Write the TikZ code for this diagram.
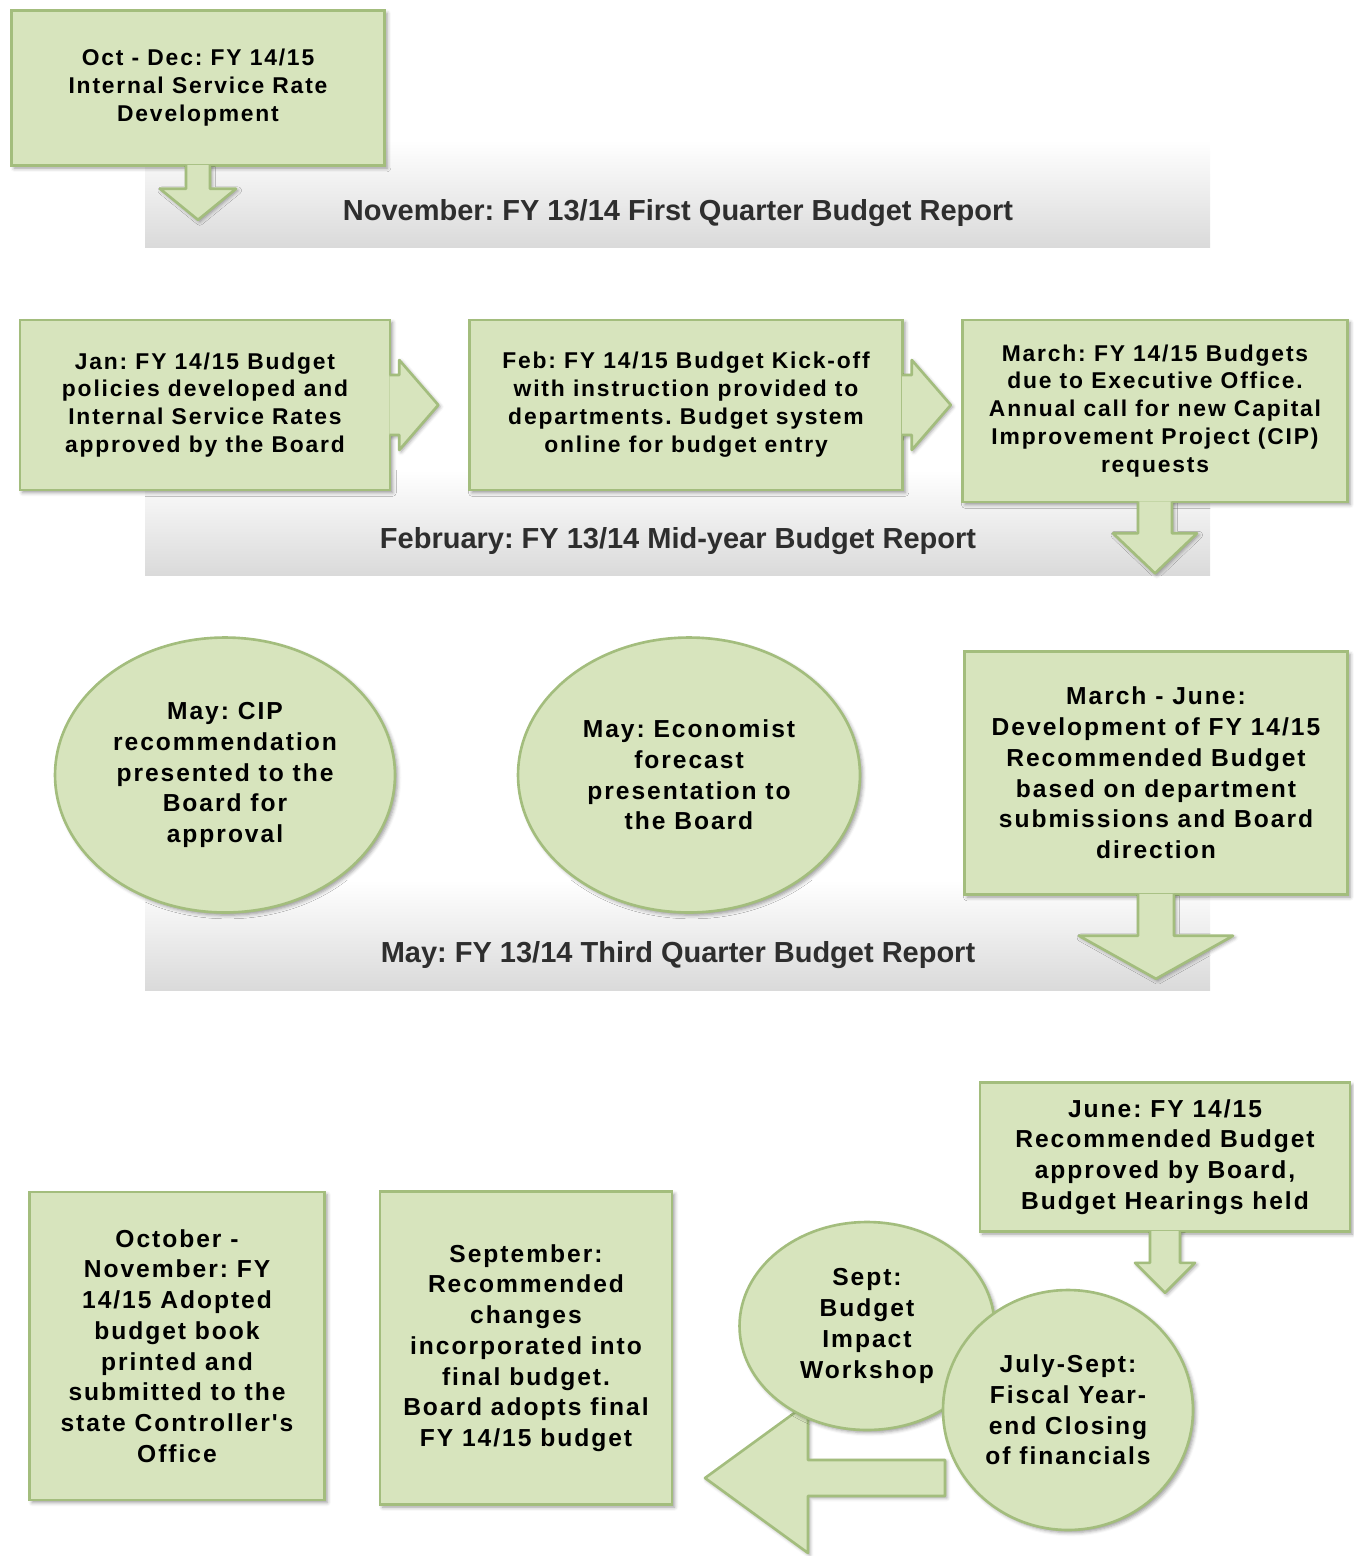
\documentclass[tikz,border=0pt]{standalone}
\usepackage{fontspec}
\setmainfont{Liberation Sans}
\newfontfamily\boxfont[LetterSpace=8]{Liberation Sans}
\usetikzlibrary{calc, shapes.geometric, shadows.blur}
\frenchspacing

\definecolor{boxgreen}{HTML}{D7E4BD}
\definecolor{boxedge}{HTML}{A3BD7D}
\definecolor{bandgray}{HTML}{DADADA}
\definecolor{bandtext}{HTML}{2E2E2E}

\tikzset{
	stagebox/.style={rectangle, fill=boxgreen, draw=boxedge, line width=1.5pt, align=center, text=black,
		blur shadow={shadow xshift=1.5pt, shadow yshift=-1.5pt}},
	stageoval/.style={ellipse, fill=boxgreen, draw=boxedge, line width=1.5pt, align=center, text=black, inner sep=0pt,
		blur shadow={shadow xshift=1.5pt, shadow yshift=-1.5pt}},
	blockarrow/.style={fill=boxgreen, draw=boxedge, line width=1.5pt, line join=round,
		blur shadow={shadow xshift=1pt, shadow yshift=-1pt}},
	small text/.style={font=\boxfont\bfseries\fontsize{13}{15.9}\selectfont},
	big text/.style={font=\boxfont\bfseries\fontsize{14}{17.5}\selectfont},
	band/.style={top color=white, bottom color=bandgray, draw=none},
	bandlabel/.style={font=\bfseries\fontsize{16.5}{19}\selectfont, text=bandtext},
}

\begin{document}
\begin{tikzpicture}[x=0.02cm, y=-0.02cm]
		%canvas, one unit is one pixel of the original
		\useasboundingbox (0,0) rectangle (1354,1556);
		
		%report bands
		\path[band] (145,140) rectangle (1210,247);
		\path[band] (145,470) rectangle (1210,575);
		\path[band] (145,880) rectangle (1210,990);
		\node[bandlabel] (nov report) at (678,213) {November: FY 13/14 First Quarter Budget Report};
		\node[bandlabel] (feb report) at (678,541) {February: FY 13/14 Mid-year Budget Report};
		\node[bandlabel] (may report) at (678,955) {May: FY 13/14 Third Quarter Budget Report};
		
		%autumn
		\node[stagebox, small text, minimum width=7.46cm, minimum height=3.1cm] (oct dec) at (198,88)
			{Oct - Dec: FY 14/15\\Internal Service Rate\\Development};
		\draw[blockarrow] ($(oct dec.south)+(-12,-2)$) -- ++(0,24) -- ++(-26,0) -- ++(38,31) -- ++(38,-31) -- ++(-26,0) -- ++(0,-24);
		
		%winter
		\node[stagebox, small text, minimum width=7.4cm, minimum height=3.4cm] (jan) at (205,405)
			{Jan: FY 14/15 Budget\\policies developed and\\Internal Service Rates\\approved by the Board};
		\node[stagebox, small text, minimum width=8.66cm, minimum height=3.4cm] (feb) at (686,405)
			{Feb: FY 14/15 Budget Kick-off\\with instruction provided to\\departments. Budget system\\online for budget entry};
		\node[stagebox, small text, minimum width=7.7cm, minimum height=3.64cm] (march) at (1155,411)
			{March: FY 14/15 Budgets\\due to Executive Office.\\Annual call for new Capital\\Improvement Project (CIP)\\requests};
		\draw[blockarrow] ($(jan.east)+(-2,-30)$) -- ++(10,0) -- ++(0,-15) -- ++(39,45) -- ++(-39,45) -- ++(0,-15) -- ++(-10,0);
		\draw[blockarrow] ($(feb.east)+(-2,-30)$) -- ++(10,0) -- ++(0,-15) -- ++(39,45) -- ++(-39,45) -- ++(0,-15) -- ++(-10,0);
		\draw[blockarrow] ($(march.south)+(-17,-2)$) -- ++(0,32) -- ++(-25,0) -- ++(42,40) -- ++(42,-40) -- ++(-25,0) -- ++(0,-32);
		
		%spring
		\node[stageoval, big text, minimum width=6.8cm, minimum height=5.5cm] (cip) at (225,775)
			{May: CIP\\recommendation\\presented to the\\Board for\\approval};
		\node[stageoval, big text, minimum width=6.84cm, minimum height=5.5cm] (economist) at (689,775)
			{May: Economist\\forecast\\presentation to\\the Board};
		\node[stagebox, big text, minimum width=7.66cm, minimum height=4.86cm] (mar jun) at (1156,773)
			{March - June:\\Development of FY 14/15\\Recommended Budget\\based on department\\submissions and Board\\direction};
		\draw[blockarrow] ($(mar jun.south)+(-18,-2)$) -- ++(0,42) -- ++(-59,0) -- ++(77,43) -- ++(77,-43) -- ++(-59,0) -- ++(0,-42);
		
		%summer and after
		\coordinate (turn) at (945,1478);
		\draw[blockarrow] ($(turn)+(0,-18)$) -- ++(-137,0) -- ++(0,-57) -- ++(-103,75) -- ++(103,75) -- ++(0,-57) -- ++(137,0) -- cycle;
		
		\node[stagebox, big text, minimum width=7.4cm, minimum height=2.98cm] (june) at (1165,1157)
			{June: FY 14/15\\Recommended Budget\\approved by Board,\\Budget Hearings held};
		\draw[blockarrow] ($(june.south)+(-15,-2)$) -- ++(0,32) -- ++(-15,0) -- ++(30,30) -- ++(30,-30) -- ++(-15,0) -- ++(0,-32);
		
		\node[stageoval, big text, minimum width=5.1cm, minimum height=4.16cm] (workshop) at (867,1326)
			{Sept:\\Budget\\Impact\\Workshop};
		\node[stageoval, big text, minimum width=5.0cm, minimum height=4.8cm] (closing) at (1068,1410)
			{July-Sept:\\Fiscal Year-\\end Closing\\of financials};
		
		\node[stagebox, big text, minimum width=5.84cm, minimum height=6.26cm] (sept) at (526,1348)
			{September:\\Recommended\\changes\\incorporated into\\final budget.\\Board adopts final\\FY 14/15 budget};
		\node[stagebox, big text, minimum width=5.9cm, minimum height=6.16cm] (oct nov) at (177,1346)
			{October -\\November: FY\\14/15 Adopted\\budget book\\printed and\\submitted to the\\state Controller's\\Office};

	\end{tikzpicture}
\end{document}
